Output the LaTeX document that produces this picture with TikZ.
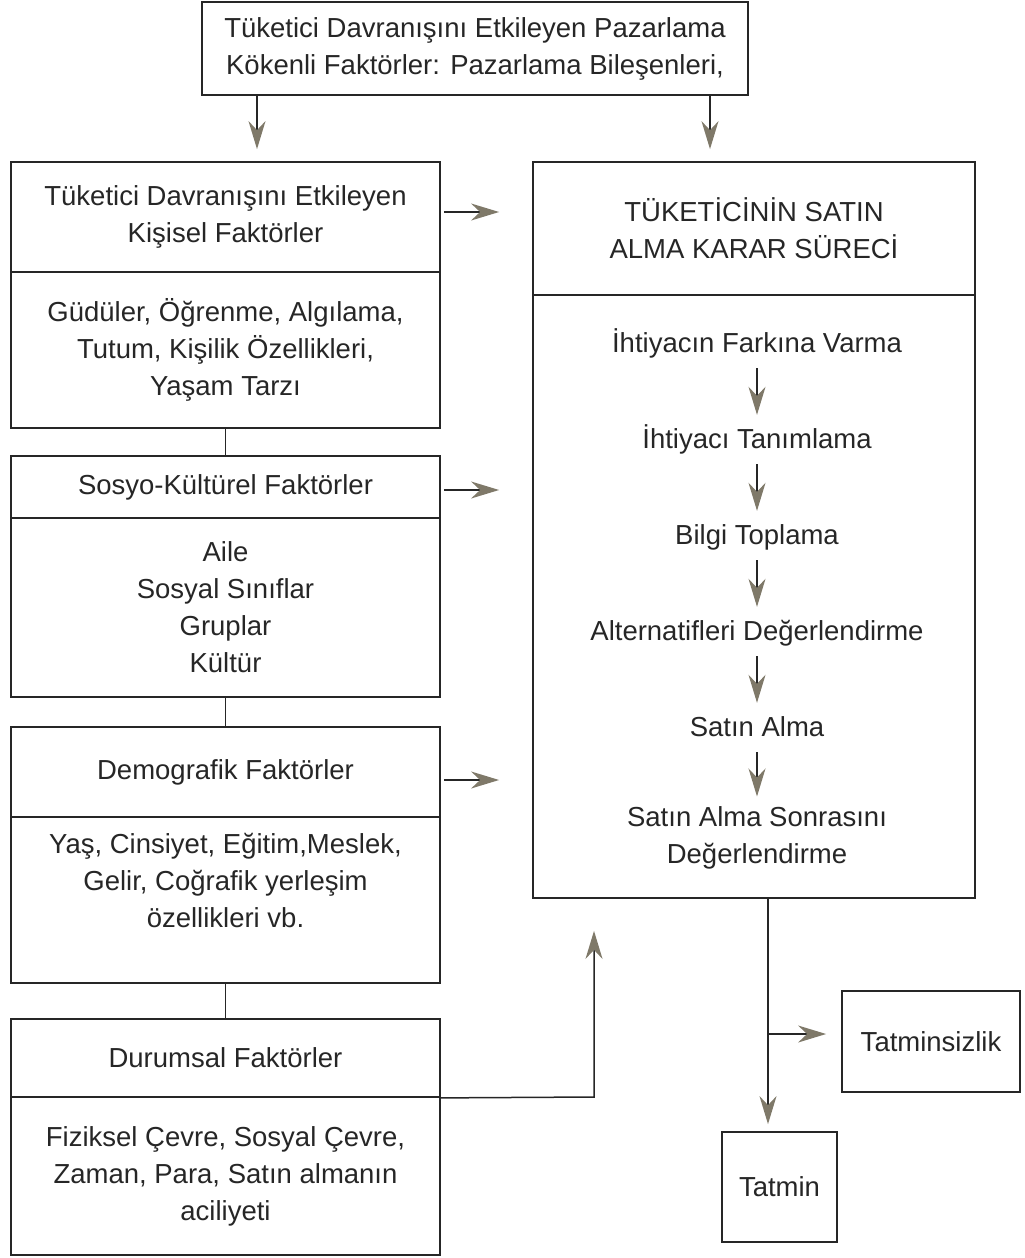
\documentclass[tikz,border=0pt]{standalone}
\usepackage{fontspec}
\setmainfont{Liberation Sans}
\usetikzlibrary{arrows.meta}
\definecolor{inkgray}{HTML}{262626}
\definecolor{headgray}{HTML}{7F7969}

\begin{document}
\begin{tikzpicture}[x=1pt, y=1pt]
    \tikzstyle{every node}+=[inner sep=0pt, text=inkgray, align=center, font=\fontsize{27.5}{37}\selectfont]
    \tikzstyle{sect}=[draw=inkgray, line width=1.8pt, rectangle]
    \tikzstyle{stepnode}=[text height=20pt, text depth=6pt]
    \tikzstyle{conn}=[draw=inkgray, line width=1.5pt]
    \tikzstyle{arr}=[conn, -{Stealth[length=28pt, width=17pt, inset=9pt, color=headgray]}]
    \useasboundingbox (0,0) rectangle (1025,-1258);

    % top box
    \node [sect, minimum width=546pt, minimum height=93pt] (top) at (475,-48.5) {Tüketici Davranışını Etkileyen Pazarlama\\Kökenli Faktörler: Pazarlama Bileşenleri,};
    \coordinate (topL) at (257,-95);
    \coordinate (topR) at (710,-95);

    % left column
    \node [sect, minimum width=429pt, minimum height=110pt] (kisHead) at (225.5,-217) {Tüketici Davranışını Etkileyen\\Kişisel Faktörler};
    \node [sect, minimum width=429pt, minimum height=156pt] (kisBody) at (225.5,-350) {Güdüler, Öğrenme, Algılama,\\Tutum, Kişilik Özellikleri,\\Yaşam Tarzı};
    \node [sect, minimum width=429pt, minimum height=62pt] (sosHead) at (225.5,-487) {Sosyo-Kültürel Faktörler};
    \node [sect, minimum width=429pt, minimum height=179pt] (sosBody) at (225.5,-607.5) {Aile\\Sosyal Sınıflar\\Gruplar\\Kültür};
    \node [sect, minimum width=429pt, minimum height=90pt] (demHead) at (225.5,-772) {Demografik Faktörler};
    \node [sect, minimum width=429pt, minimum height=166pt] (demBody) at (225.5,-900) {};
    \node (demText) at (225.5,-880) {Yaş, Cinsiyet, Eğitim,Meslek,\\Gelir, Coğrafik yerleşim\\özellikleri vb.};
    \node [sect, minimum width=429pt, minimum height=78pt] (durHead) at (225.5,-1058) {Durumsal Faktörler};
    \node [sect, minimum width=429pt, minimum height=158pt] (durBody) at (225.5,-1176) {Fiziksel Çevre, Sosyal Çevre,\\Zaman, Para, Satın almanın\\aciliyeti};

    % decision process
    \node [sect, minimum width=442pt, minimum height=133pt] (procHead) at (754,-228.5) {TÜKETİCİNİN SATIN\\ALMA KARAR SÜRECİ};
    \node [sect, minimum width=442pt, minimum height=603pt] (procBody) at (754,-596.5) {};
    \node [stepnode] (s1) at (757,-345) {İhtiyacın Farkına Varma};
    \node [stepnode] (s2) at (757,-441) {İhtiyacı Tanımlama};
    \node [stepnode] (s3) at (757,-537) {Bilgi Toplama};
    \node [stepnode] (s4) at (757,-633) {Alternatifleri Değerlendirme};
    \node [stepnode] (s5) at (757,-729) {Satın Alma};
    \node (s6) at (757,-838) {Satın Alma Sonrasını\\Değerlendirme};

    % outcomes
    \node [sect, minimum width=115pt, minimum height=110pt] (tatmin) at (779.5,-1187) {Tatmin};
    \node [sect, minimum width=178pt, minimum height=101pt] (tatminsiz) at (931,-1041.5) {Tatminsizlik};
    \coordinate (split) at (768,-1034);
    \coordinate (durTurn) at (594,-1097);

    % connectors
    \draw [arr, shorten >=12pt] (topL) -- (topL |- kisHead.north);
    \draw [arr, shorten >=12pt] (topR) -- (topR |- procHead.north);
    \draw [conn] (kisBody.south) -- (sosHead.north);
    \draw [conn] (sosBody.south) -- (demHead.north);
    \draw [conn] (demBody.south) -- (durHead.north);
    \draw [arr, shorten <=3pt, shorten >=33pt] ([yshift=5pt]kisHead.east) -- ([yshift=5pt]kisHead.east -| procHead.west);
    \draw [arr, shorten <=3pt, shorten >=33pt] ([yshift=-3pt]sosHead.east) -- ([yshift=-3pt]sosHead.east -| procHead.west);
    \draw [arr, shorten <=3pt, shorten >=33pt] ([yshift=-8pt]demHead.east) -- ([yshift=-8pt]demHead.east -| procHead.west);
    \foreach \a/\b in {s1/s2, s2/s3, s3/s4, s4/s5}
        \draw [arr, line width=1.2pt, shorten <=10pt, shorten >=13pt] (\a) -- (\b);
    \draw [arr, line width=1.2pt, shorten <=10pt, shorten >=10pt] (s5) -- (s6);
    \draw [arr, shorten >=32pt] (durHead.south east) -- (durTurn) -- (durTurn |- procBody.south);
    \draw [arr, shorten >=7pt] (procBody.south -| split) -- (tatmin.north -| split);
    \draw [arr, shorten >=15pt] (split) -- (split -| tatminsiz.west);
\end{tikzpicture}
\end{document}
